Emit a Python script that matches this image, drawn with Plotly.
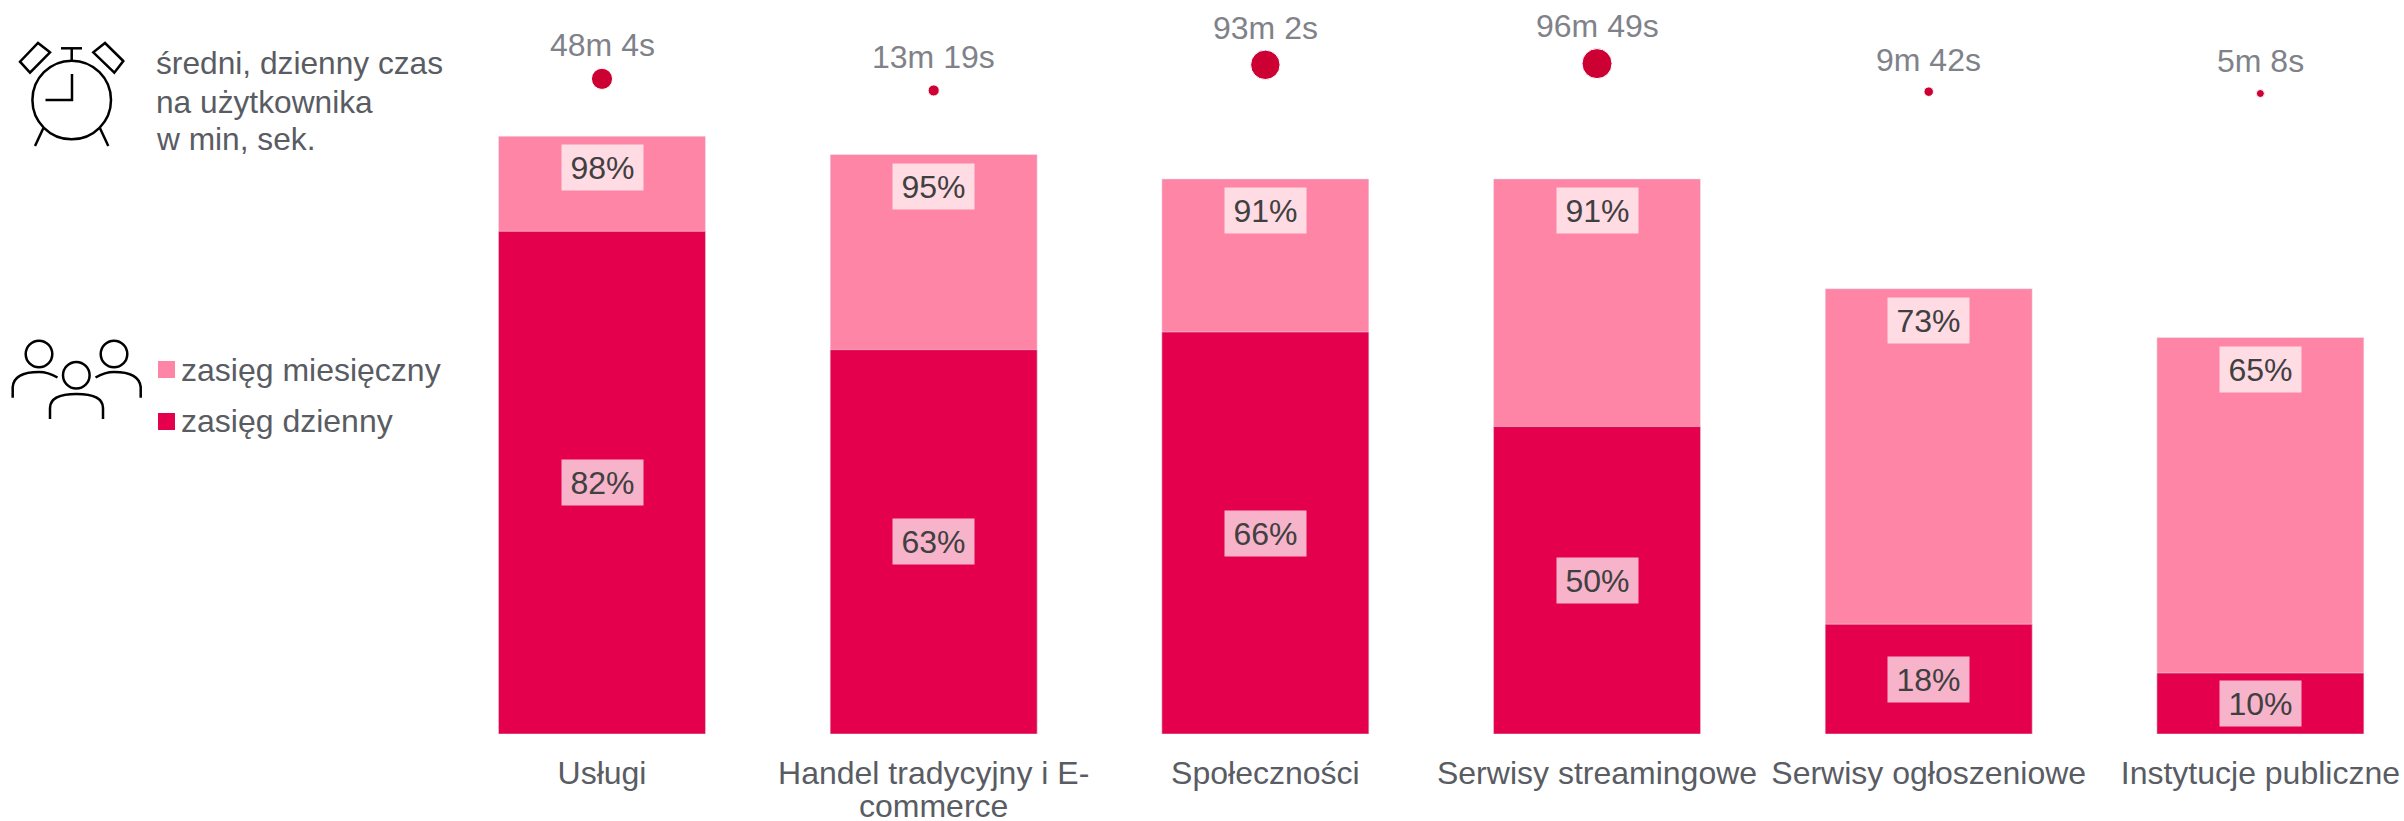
import plotly.graph_objects as go

categories = ["Usługi", "Handel tradycyjny i E-commerce", "Społeczności",
              "Serwisy streamingowe", "Serwisy ogłoszeniowe", "Instytucje publiczne"]
tick_labels = ["Usługi", "Handel tradycyjny i E-", "Społeczności",
               "Serwisy streamingowe", "Serwisy ogłoszeniowe", "Instytucje publiczne"]
monthly = [98, 95, 91, 91, 73, 65]
daily = [82.4, 63, 65.9, 50.4, 18, 10]
time_labels = ["48m 4s", "13m 19s", "93m 2s", "96m 49s", "9m 42s", "5m 8s"]
time_minutes = [48.07, 13.32, 93.03, 96.82, 9.70, 5.13]
# heights of the bubbles and their captions above the bars
bubble_level = [107.4, 105.5, 109.7, 109.9, 105.3, 105.0]
caption_level = [112.9, 111.0, 115.7, 116.0, 110.5, 110.3]

W, H, BASE = 2404, 821, 734
DARK, LIGHT, DOT = "#E4004D", "#FF85A6", "#CC0033"
FONT = "Liberation Sans"
TEXT = "#595C63"


def px(x):
    return x / W


def py(y):
    return (BASE - y) / BASE


def path(points):
    """Turn a list of (command, x, y, ...) in page pixels into a paper-space SVG path."""
    parts = []
    for p in points:
        coords = [f"{px(v) if i % 2 == 0 else py(v):.5f}" for i, v in enumerate(p[1:])]
        parts.append(p[0] + " " + " ".join(coords))
    return " ".join(parts)


def line_shape(points):
    return dict(type="path", xref="paper", yref="paper", path=path(points),
                line=dict(color="black", width=2.5))


def circle_shape(cx, cy, r):
    return dict(type="circle", xref="paper", yref="paper",
                x0=px(cx - r), x1=px(cx + r), y0=py(cy + r), y1=py(cy - r),
                line=dict(color="black", width=2.5))


def square_shape(x, y, color):
    return dict(type="rect", xref="paper", yref="paper", x0=px(x), x1=px(x + 17),
                y0=py(y + 17), y1=py(y), fillcolor=color, line_width=0)


def bell(a, b, c, d):
    return line_shape([("M", *a), ("L", *b), ("L", *c), ("L", *d), ("L", *a), ("L", *b)])


shapes = [
    # clock
    circle_shape(71.7, 100, 39.3),
    line_shape([("M", 72, 74), ("L", 72, 100), ("L", 45.5, 100)]),
    line_shape([("M", 71.7, 48.3), ("L", 71.7, 60.7)]),
    line_shape([("M", 61, 48.3), ("L", 82, 48.3)]),
    line_shape([("M", 43.3, 128.3), ("L", 35, 146)]),
    line_shape([("M", 100, 128.3), ("L", 108.3, 146)]),
    bell((38, 43), (50, 52.3), (30, 72.7), (20, 61.7)),
    bell((105, 43), (123.3, 61), (114.3, 72.7), (93.3, 52.3)),
    # people
    circle_shape(39, 354, 13.3),
    circle_shape(114, 354, 13.3),
    circle_shape(76.3, 375.3, 13.3),
    line_shape([("M", 12.7, 397.7), ("L", 12.7, 387), ("Q", 14, 372, 39, 372), ("Q", 48, 372, 57.5, 377.5)]),
    line_shape([("M", 140.7, 397.7), ("L", 140.7, 387), ("Q", 139, 372, 114, 372), ("Q", 105, 372, 95.5, 377.5)]),
    line_shape([("M", 50, 419), ("L", 50, 408), ("Q", 50, 394, 76.5, 394), ("Q", 103, 394, 103, 408), ("L", 103, 419)]),
    # legend
    square_shape(158, 361, LIGHT),
    square_shape(158, 413, DARK),
]

fig = go.Figure()
fig.add_trace(go.Bar(x=categories, y=monthly, marker_color=LIGHT, name="zasięg miesięczny"))
fig.add_trace(go.Bar(x=categories, y=daily, marker_color=DARK, name="zasięg dzienny"))
fig.add_trace(go.Scatter(
    x=categories, y=bubble_level, mode="markers",
    marker=dict(size=time_minutes, sizemode="area", sizeref=0.215, sizemin=4, color=DOT, opacity=1),
))

pct_style = dict(bgcolor="rgba(255,255,255,0.7)", borderpad=2, showarrow=False, width=77, height=41,
                 align="center", valign="middle", font=dict(family=FONT, size=32, color="#404040"))
annotations = []
for cat, m, d, cap, t in zip(categories, monthly, daily, caption_level, time_labels):
    annotations.append(dict(x=cat, y=m, yanchor="top", yshift=-8, text=f"{m}%", **pct_style))
    annotations.append(dict(x=cat, y=d / 2, text=f"{round(d)}%", **pct_style))
    annotations.append(dict(x=cat, y=cap, text=t, showarrow=False,
                            font=dict(family=FONT, size=32, color="#7F8289")))

# second line of the wrapped tick label, tighter than plotly's own line height
annotations.append(dict(x=categories[1], yref="paper", y=py(806), yanchor="middle", text="commerce",
                        showarrow=False, font=dict(family=FONT, size=32, color=TEXT)))

side_texts = [("średni, dzienny czas", 154, 63, 31.7), ("na użytkownika", 154, 101.5, 31.7),
              ("w min, sek.", 154, 139, 31.7),
              ("zasięg miesięczny", 179, 370, 32), ("zasięg dzienny", 179, 421, 32)]
for text, x, y, size in side_texts:
    annotations.append(dict(xref="paper", yref="paper", x=px(x), y=py(y), xanchor="left", yanchor="middle",
                            text=text, showarrow=False, font=dict(family=FONT, size=size, color=TEXT)))

fig.update_layout(
    width=W, height=H, barmode="overlay", bargap=0.376, showlegend=False,
    plot_bgcolor="white", paper_bgcolor="white",
    margin=dict(l=0, r=0, t=0, b=H - BASE, autoexpand=False),
    shapes=shapes, annotations=annotations,
    font=dict(family=FONT, size=32, color=TEXT),
)
fig.update_xaxes(type="category", range=[-1.815, 5.433], showgrid=False, showline=False, zeroline=False,
                 tickmode="array", tickvals=categories, ticktext=tick_labels,
                 ticks="outside", ticklen=11, tickcolor="rgba(0,0,0,0)",
                 tickfont=dict(family=FONT, size=32, color=TEXT))
fig.update_yaxes(range=[0, BASE / 6.1], visible=False)

fig.write_html("out.html", config={"displayModeBar": False},
               post_script="document.body.style.margin='0';")
